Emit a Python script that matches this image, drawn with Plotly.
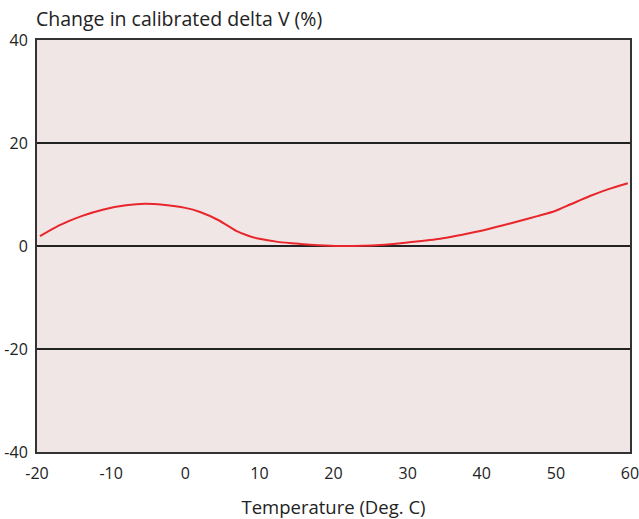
import plotly.graph_objects as go

temp = [-19.6, -17, -14, -11, -8, -5.4, -3, 0, 2, 4.5, 6.8, 8.5, 10, 12.5, 15.5, 18, 20.9, 24, 26.3, 30, 34.4, 37, 39.8, 42.5, 45.2, 47.5, 49.9, 52, 54.6, 57, 59.7]
delta = [1.9, 4.0, 5.8, 7.1, 7.9, 8.2, 8.0, 7.4, 6.6, 5.0, 3.0, 2.0, 1.4, 0.8, 0.4, 0.15, 0.0, 0.05, 0.2, 0.7, 1.4, 2.1, 2.9, 3.9, 4.9, 5.8, 6.8, 8.1, 9.7, 11.0, 12.2]

x_ticks = [-20, -10, 0, 10, 20, 30, 40, 50, 60]
x_labels = ["-20", "-10", "0", "10", "20", "30", "40", "50", "60"]
y_ticks = [-40, -20, 0, 20, 40]
y_labels = ["-40", "-20", "0", "20", "40"]

font_family = "Open Sans, Lato, sans-serif"

fig = go.Figure()
fig.add_trace(go.Scatter(x=temp, y=delta, mode="lines",
                         line=dict(color="#e8262b", width=2, shape="spline", smoothing=0.8),
                         showlegend=False, hoverinfo="skip"))

fig.update_layout(
    width=639, height=519,
    margin=dict(l=37, r=9, t=40, b=67, autoexpand=False),
    paper_bgcolor="white",
    plot_bgcolor="#f0e6e6",
    font=dict(family=font_family, size=16, color="#222"),
    xaxis=dict(range=[-20, 60], tickvals=x_ticks, ticktext=x_labels, showgrid=False, zeroline=False,
               showline=True, linecolor="#333", linewidth=2, mirror=True, automargin=False,
               ticks="", ticklabelstandoff=6, ticklabeloverflow="allow",
               title=dict(text="Temperature (Deg. C)", font=dict(size=18.5), standoff=18)),
    yaxis=dict(range=[-40, 40], tickvals=y_ticks, ticktext=y_labels, showgrid=True,
               gridcolor="#222", gridwidth=1.5, zeroline=False, automargin=False,
               showline=True, linecolor="#333", linewidth=2, mirror=True, ticks="",
               ticklabelstandoff=4, ticklabeloverflow="allow"),
    annotations=[dict(text="Change in calibrated delta V (%)", xref="paper", yref="paper",
                      x=0.0, y=1.0, xanchor="left", yanchor="bottom", yshift=6, xshift=-3,
                      showarrow=False, font=dict(size=19.5, color="#222"))],
)
fig.write_html("out.html")
